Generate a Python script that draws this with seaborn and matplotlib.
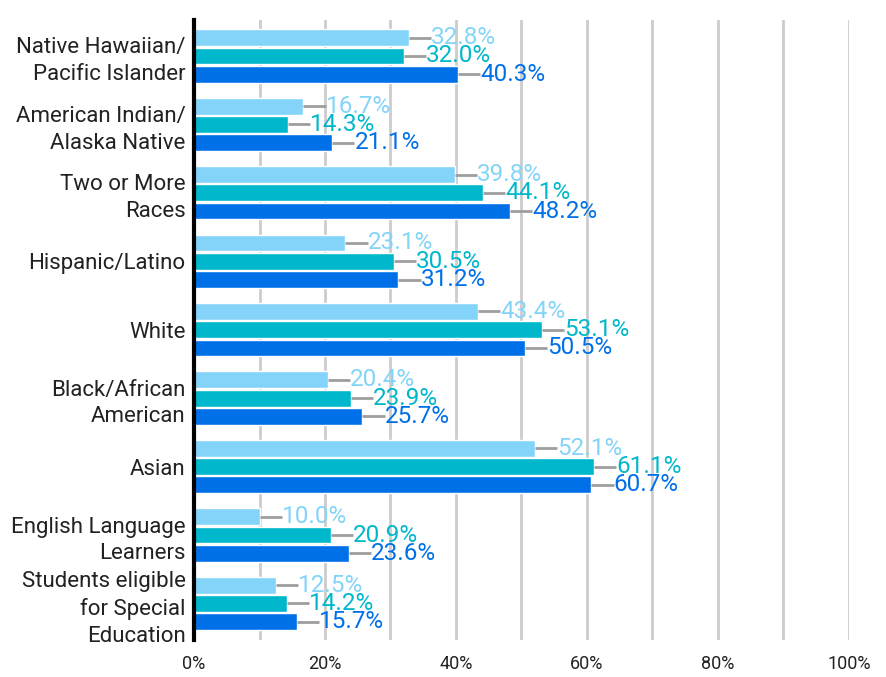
import pandas as pd
import matplotlib.pyplot as plt
import seaborn as sns

# Categories (top to bottom) and the three series values (percent)
groups = ["Native Hawaiian/\nPacific Islander", "American Indian/\nAlaska Native",
          "Two or More\nRaces", "Hispanic/Latino", "White", "Black/African\nAmerican",
          "Asian", "English Language\nLearners", "Students eligible\nfor Special\nEducation"]
series = ["Series 1", "Series 2", "Series 3"]
vals_1 = [32.8, 16.7, 39.8, 23.1, 43.4, 20.4, 52.1, 10.0, 12.5]
vals_2 = [32.0, 14.3, 44.1, 30.5, 53.1, 23.9, 61.1, 20.9, 14.2]
vals_3 = [40.3, 21.1, 48.2, 31.2, 50.5, 25.7, 60.7, 23.6, 15.7]
colors = ["#84D4F9", "#00B7CB", "#0070E8"]

rows = []
for s, vals in zip(series, [vals_1, vals_2, vals_3]):
    for g, v in zip(groups, vals):
        rows.append({"group": g, "series": s, "value": v})
df = pd.DataFrame(rows)

sns.set_style("white")
plt.rcParams['font.family'] = ['Roboto', 'DejaVu Sans']

fig = plt.figure(figsize=(8.86, 6.77), dpi=100)
ax = fig.add_axes([0.219, 0.055, 0.739, 0.916])

sns.barplot(data=df, y="group", x="value", hue="series", orient="h",
            palette=colors, width=0.8, gap=0.08, legend=False, ax=ax,
            saturation=1, zorder=2)

# labels with short leader lines
for cont, col in zip(ax.containers, colors):
    for p in cont:
        w = p.get_width()
        yc = p.get_y() + p.get_height() / 2
        ax.plot([w, w + 3.4], [yc, yc], color="#9E9E9E", lw=2, zorder=3,
                solid_capstyle="butt")
        ax.text(w + 3.4, yc, f"{w:.1f}%", color=col, fontsize=17.5,
                va="center", ha="left", zorder=4)

ax.set_xlim(0, 100)
ax.set_ylim(8.53, -0.53)
ax.set_xticks(range(0, 101, 10))
ax.set_xticklabels([f"{t}%" if t % 20 == 0 else "" for t in range(0, 101, 10)],
                   fontsize=13, color="#222222")
ax.xaxis.grid(True, color="#CCCCCC", lw=2, zorder=0)
ax.set_axisbelow(True)
ax.tick_params(axis="both", length=0)
ax.tick_params(axis="x", pad=11)
ax.tick_params(axis="y", pad=6)
for lab in ax.get_yticklabels():
    lab.set_fontsize(16)
    lab.set_linespacing(1.36)
    lab.set_color("#222222")
ax.set_xlabel("")
ax.set_ylabel("")
for side in ["top", "right", "bottom"]:
    ax.spines[side].set_visible(False)
ax.spines["left"].set_color("black")
ax.spines["left"].set_linewidth(3)
ax.spines["left"].set_zorder(5)

fig.savefig("out.png", dpi=100)
